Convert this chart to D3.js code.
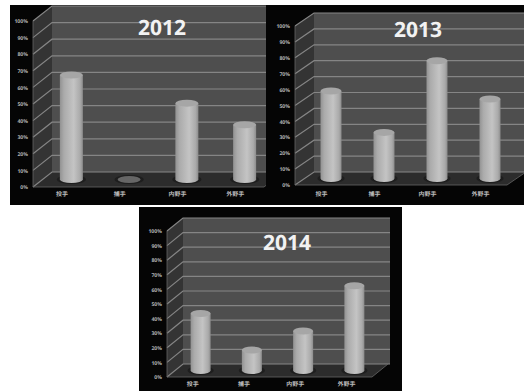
<!DOCTYPE html>
<html>
<head>
<meta charset="utf-8">
<script src="https://cdnjs.cloudflare.com/ajax/libs/d3/7.8.5/d3.min.js"></script>
<style>
html,body{margin:0;padding:0;background:#fff;}
svg{display:block;}
text{font-family:"Noto Sans CJK JP","Noto Sans",sans-serif;text-rendering:geometricPrecision;}
</style>
</head>
<body>
<svg id="chart" width="524" height="391"></svg>
<script>
// Share of players by position, one 3D-style cylinder chart per year
const positions = ["投手", "捕手", "内野手", "外野手"];
const percentTicks = [0, 10, 20, 30, 40, 50, 60, 70, 80, 90, 100];
const values2012 = [63, 0, 46, 33];
const values2013 = [55, 29, 74, 50];
const values2014 = [39, 14, 27, 58];

// Geometry of each framed panel: frame, front axis plane and depth offset
const panels = [
  {year: "2012", values: values2012, frame: [10, 5, 256, 200], left: 33, right: 264, base: 187, top: 21, dx: 19, dy: 15, wallRight: 266, r: 11.5, titleX: 162, titleY: 35, labelY: 195},
  {year: "2013", values: values2013, frame: [266, 5, 258, 200], left: 295, right: 507, base: 185, top: 26, dx: 19, dy: 13, wallRight: 524, r: 10.5, titleX: 418, titleY: 37, labelY: 195},
  {year: "2014", values: values2014, frame: [139, 207, 263, 184], left: 167, right: 372, base: 377, top: 231, dx: 16, dy: 13, wallRight: 390, r: 10, titleX: 287, titleY: 250, labelY: 385}
];

const svg = d3.select("#chart");
const defs = svg.append("defs");
const cylinderFill = defs.append("linearGradient").attr("id", "cylinderFill");
[[0, "#929292"], [0.18, "#ababab"], [0.6, "#c4c4c4"], [0.88, "#aaaaaa"], [1, "#8c8c8c"]]
  .forEach(([o, c]) => cylinderFill.append("stop").attr("offset", o).attr("stop-color", c));

panels.forEach((p, i) => {
  const clipId = "panel-clip-" + i;
  defs.append("clipPath").attr("id", clipId).append("rect")
    .attr("x", p.frame[0]).attr("y", p.frame[1]).attr("width", p.frame[2]).attr("height", p.frame[3]);

  const g = svg.append("g").attr("clip-path", `url(#${clipId})`);
  g.append("rect").attr("x", p.frame[0]).attr("y", p.frame[1])
    .attr("width", p.frame[2]).attr("height", p.frame[3]).attr("fill", "#050505");

  const y = d3.scaleLinear().domain([0, 100]).range([p.base, p.top]);
  const x = d3.scaleBand().domain(positions).range([p.left, p.right]);

  const line = d3.line();
  // Back wall, side wall and floor of the plot box
  g.append("rect").attr("x", p.left + p.dx).attr("y", y(100) - p.dy)
    .attr("width", p.wallRight - p.left - p.dx).attr("height", y(0) - y(100))
    .attr("fill", "#4e4e4e");
  g.append("path").attr("fill", "#343434")
    .attr("d", line([[p.left, y(0)], [p.left + p.dx, y(0) - p.dy], [p.left + p.dx, y(100) - p.dy], [p.left, y(100)]]) + "Z");
  g.append("path").attr("fill", "#2c2c2c")
    .attr("d", line([[p.left, y(0)], [p.right, y(0)], [p.right + p.dx, y(0) - p.dy], [p.left + p.dx, y(0) - p.dy]]) + "Z");

  // Gridlines run along the back wall and fold down the side wall
  percentTicks.forEach(t => {
    g.append("path").attr("fill", "none").attr("stroke", "#858585").attr("stroke-width", 1.2)
      .attr("d", line([[p.left, y(t)], [p.left + p.dx, y(t) - p.dy], [p.wallRight, y(t) - p.dy]]));
  });
  g.append("path").attr("fill", "none").attr("stroke", "#666").attr("stroke-width", 0.8)
    .attr("d", line([[p.left, y(100)], [p.left, y(0)], [p.right, y(0)], [p.right + p.dx, y(0) - p.dy]]));

  // Cylinders stand in the middle of the floor's depth
  const cx = d => x(d.pos) + x.bandwidth() / 2 + p.dx / 2;
  const rows = p.values.map((v, k) => ({pos: positions[k], v}));
  const ry = 3.5;
  const hBase = p.dy / 2;

  g.selectAll(".shadow").data(rows).enter().append("ellipse")
    .attr("cx", cx).attr("cy", y(0) - hBase)
    .attr("rx", p.r + 3).attr("ry", ry + 1).attr("fill", "#1e1e1e");

  g.selectAll(".body").data(rows.filter(d => d.v > 0)).enter().append("path")
    .attr("fill", "url(#cylinderFill)")
    .attr("d", d => {
      const c = cx(d), t = y(d.v) - hBase, b = y(0) - hBase;
      return `M${c - p.r},${t}L${c - p.r},${b}A${p.r},${ry} 0 0 0 ${c + p.r},${b}L${c + p.r},${t}Z`;
    });

  g.selectAll(".cap").data(rows).enter().append("ellipse")
    .attr("cx", cx).attr("cy", d => y(d.v) - hBase)
    .attr("rx", p.r).attr("ry", ry)
    .attr("fill", d => d.v > 0 ? "#a6a6a6" : "#666666");

  // Value and category axes
  const yAxis = g.append("g").attr("transform", `translate(${p.left - 4},0)`)
    .call(d3.axisLeft(y).tickValues(percentTicks).tickSize(0).tickPadding(1).tickFormat(d => d + "%"));
  yAxis.select(".domain").remove();
  yAxis.selectAll("text").attr("fill", "#b0b0b0").attr("font-size", 5.2).attr("font-weight", 700)
    .style("font-family", '"Noto Sans",sans-serif');

  const xAxis = g.append("g").attr("transform", `translate(0,${p.labelY - 8})`)
    .call(d3.axisBottom(x).tickSize(0).tickPadding(5));
  xAxis.select(".domain").remove();
  xAxis.selectAll("text").attr("fill", "#bcbcbc").attr("font-size", 6).attr("font-weight", 700);

  g.append("text").attr("x", p.titleX).attr("y", p.titleY).attr("text-anchor", "middle")
    .attr("fill", "#f2f2f2").attr("font-size", 21).attr("font-weight", 700)
    .style("font-family", '"Open Sans",sans-serif').text(p.year);
});
</script>
</body>
</html>
